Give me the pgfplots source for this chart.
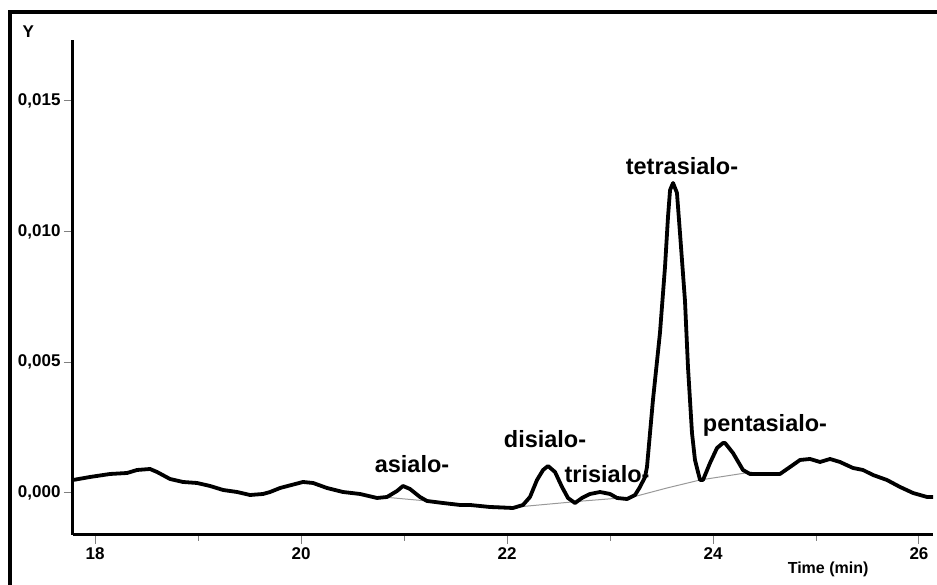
\documentclass[border=0pt]{standalone}
\usepackage{fontspec}
\setmainfont{Liberation Sans}
\usepackage{pgfplots}
\pgfplotsset{compat=1.18}
\begin{document}
\begin{tikzpicture}
\useasboundingbox (-73pt,-50pt) rectangle (864pt,535pt);
\draw[line width=4pt] (-63pt,-80pt) -- (-63pt,523pt) -- (900pt,523pt);
\begin{axis}[
  at={(0,0)}, anchor=south west,
  scale only axis, width=860pt, height=495pt,
  xmin=17.786, xmax=26.136, ymin=-1.607, ymax=17.33,
  axis x line=bottom, axis y line=left,
  axis line style={line width=3pt, -},
  xtick={18,20,22,24,26}, minor xtick={19,21,23,25},
  ytick={0,5,10,15}, yticklabels={{0,000},{0,005},{0,010},{0,015}},
  tick align=outside,
  major tick length=9pt, minor tick length=6pt,
  tick style={gray, line width=1pt},
  ticklabel style={font=\fontsize{17}{20}\selectfont\bfseries},
  /pgf/number format/assume math mode=true,
  clip=false,
]
\addplot[gray!80, line width=1pt] coordinates {
(20.796,-0.153) (21.223,-0.306) (21.689,-0.459) (22.097,-0.536) (22.738,-0.306)
(23.223,-0.153) (23.553,0.191) (23.874,0.497) (24.379,0.803)
};
\addplot[black, line width=3.8pt, line join=round] coordinates {
(17.786,0.497) (17.951,0.612) (18.146,0.727) (18.311,0.765) (18.408,0.880)
(18.534,0.918) (18.602,0.803) (18.728,0.536) (18.854,0.421) (18.990,0.383)
(19.117,0.268) (19.243,0.115) (19.379,0.038) (19.505,-0.077) (19.631,-0.038)
(19.700,0.038) (19.796,0.191) (20.019,0.421) (20.117,0.383) (20.252,0.191)
(20.408,0.038) (20.573,-0.038) (20.738,-0.191) (20.835,-0.153) (20.932,0.077)
(20.990,0.268) (21.058,0.153) (21.155,-0.153) (21.223,-0.306) (21.379,-0.383)
(21.544,-0.459) (21.641,-0.459) (21.835,-0.536) (22.058,-0.574) (22.155,-0.459)
(22.223,-0.153) (22.291,0.497) (22.350,0.880) (22.398,1.033) (22.466,0.803)
(22.534,0.230) (22.592,-0.191) (22.660,-0.383) (22.728,-0.191) (22.806,-0.038)
(22.903,0.038) (23.000,-0.038) (23.068,-0.191) (23.165,-0.230) (23.243,-0.077)
(23.291,0.230) (23.340,0.612) (23.359,0.995) (23.417,3.558) (23.485,6.122)
(23.534,8.647) (23.563,10.56) (23.583,11.59) (23.612,11.86) (23.650,11.48)
(23.680,9.915) (23.728,7.347) (23.757,4.821) (23.796,2.296) (23.825,1.263)
(23.874,0.497) (23.903,0.497) (23.971,1.148) (24.039,1.722) (24.097,1.913)
(24.117,1.913) (24.194,1.530) (24.291,0.880) (24.359,0.727) (24.524,0.727)
(24.650,0.727) (24.748,0.995) (24.845,1.263) (24.942,1.301) (25.039,1.186)
(25.136,1.301) (25.233,1.186) (25.359,0.957) (25.456,0.880) (25.553,0.689)
(25.689,0.497) (25.816,0.230) (25.942,0.000) (26.078,-0.153) (26.136,-0.153)
};
\begin{scope}[every node/.style={font=\fontsize{23.5}{28}\selectfont\bfseries, anchor=base, inner sep=0pt}]
\node at (axis cs:21.078,0.765) {asialo-};
\node at (axis cs:22.369,1.722) {disialo-};
\node at (axis cs:22.971,0.383) {trisialo-};
\node at (axis cs:23.699,12.17) {tetrasialo-};
\node at (axis cs:24.505,2.334) {pentasialo-};
\end{scope}
\node[font=\fontsize{17}{20}\selectfont\bfseries] at (rel axis cs:-0.052,1.016) {Y};
\node[font=\fontsize{16}{19}\selectfont\bfseries] at (rel axis cs:0.878,-0.0687) {Time (min)};
\end{axis}
\end{tikzpicture}
\end{document}
